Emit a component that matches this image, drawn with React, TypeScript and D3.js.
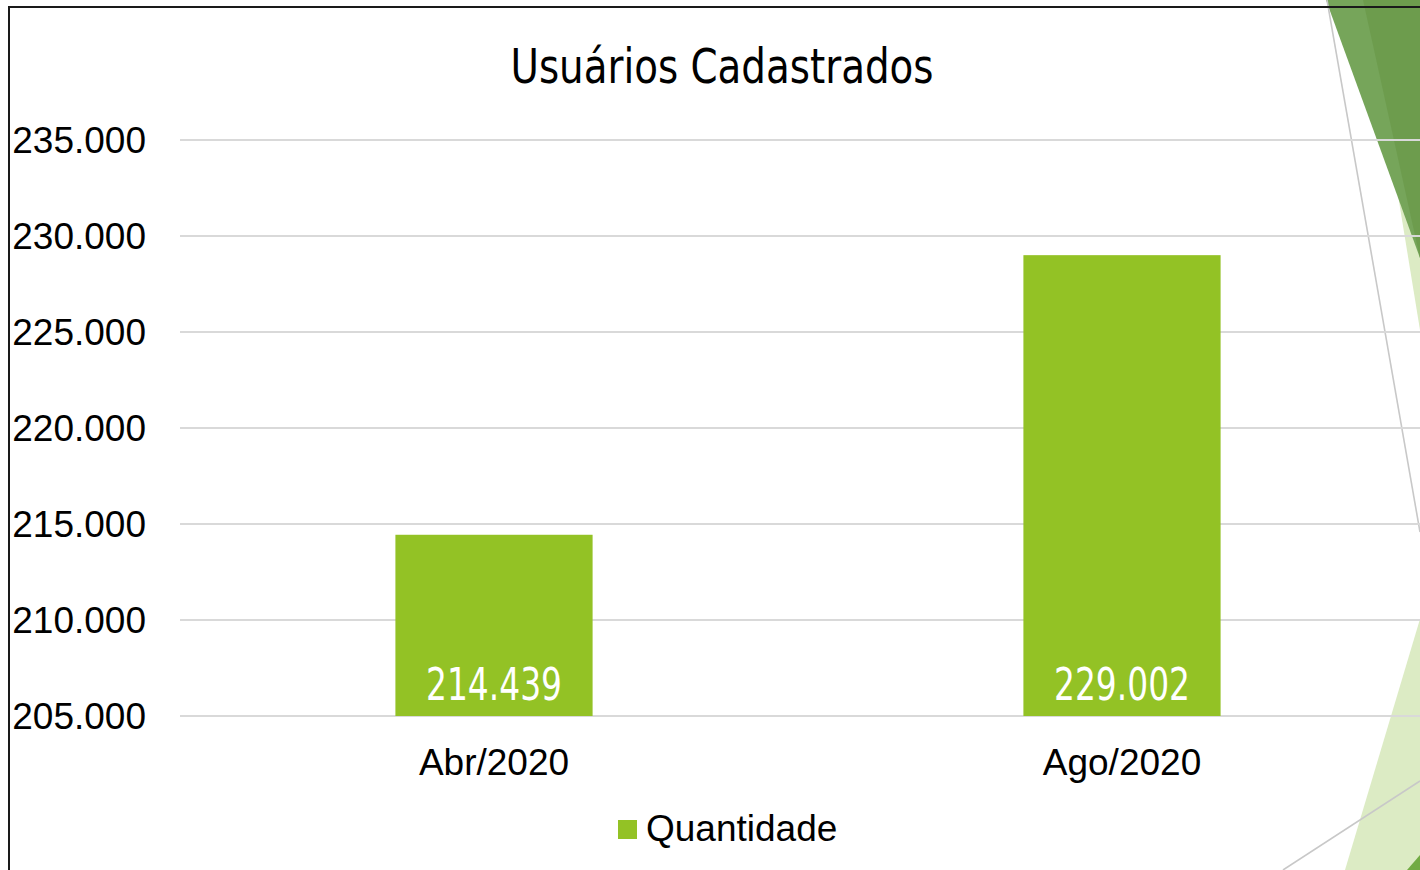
import * as d3 from 'd3'

const WIDTH = 1420
const HEIGHT = 870

const categories = ['Abr/2020', 'Ago/2020']
const quantidade = [214439, 229002]
const yTicks = [205000, 210000, 215000, 220000, 225000, 230000, 235000]
const title = 'Usuários Cadastrados'
const seriesName = 'Quantidade'

const BAR_COLOR = '#93c225'
const GRID_COLOR = '#d9d9d9'
const ARIAL = '"Liberation Sans", Arial, sans-serif'
const CONDENSED = '"DejaVu Sans Condensed", Roboto, sans-serif'

const ptBR = d3.formatLocale({ decimal: ',', thousands: '.', grouping: [3], currency: ['R$', ''] })
const fmt = ptBR.format(',d')

const x = d3.scaleBand<string>().domain(categories).range([180, 1436]).paddingInner(0.686).paddingOuter(0.343)
const y = d3.scaleLinear().domain([205000, 235000]).range([716, 140])

// decoration in the right margin (slide theme shapes)
const Decor = () => (
  <g>
    <polygon points="1389,140 1420,330 1420,140" fill="#dcebc4" />
    <polygon points="1326,0 1420,0 1420,258" fill="#76a55a" />
    <polygon points="1363,0 1420,0 1420,258" fill="#6c9a4b" opacity={0.85} />
    <line x1={1327} y1={0} x2={1420} y2={532} stroke="#c8c8c8" strokeWidth={1.6} />
    <polygon points="1345,870 1420,619 1420,870" fill="#dcebc4" />
    <line x1={1283} y1={870} x2={1420} y2={781} stroke="#c8c8c8" strokeWidth={1.6} />
    <polygon points="1407,870 1420,855 1420,870" fill="#72ab43" />
  </g>
)

export default function App() {
  const base = y(205000)
  return (
    <svg
      width={WIDTH}
      height={HEIGHT}
      viewBox={`0 0 ${WIDTH} ${HEIGHT}`}
      style={{ position: 'absolute', left: 0, top: 0, background: '#fff' }}
    >
      <rect width={WIDTH} height={HEIGHT} fill="#fff" />
      <Decor />

      <text
        x={722}
        y={83}
        textAnchor="middle"
        fontFamily={CONDENSED}
        fontSize={48}
        textLength={423}
        lengthAdjust="spacingAndGlyphs"
        fill="#000"
      >
        {title}
      </text>

      {yTicks.map((t) => (
        <g key={t}>
          <line x1={180} x2={WIDTH} y1={y(t)} y2={y(t)} stroke={GRID_COLOR} strokeWidth={2} />
          <text x={146} y={y(t) + 13} textAnchor="end" fontFamily={ARIAL} fontSize={37} fill="#000">
            {fmt(t)}
          </text>
        </g>
      ))}

      {categories.map((c, i) => {
        const bx = x(c)!
        const cx = bx + x.bandwidth() / 2
        return (
          <g key={c}>
            <rect x={bx} y={y(quantidade[i])} width={x.bandwidth()} height={base - y(quantidade[i])} fill={BAR_COLOR} />
            <text
              x={cx}
              y={base - 16}
              textAnchor="middle"
              fontFamily={CONDENSED}
              fontSize={44}
              textLength={136}
              lengthAdjust="spacingAndGlyphs"
              fill="#fff"
            >
              {fmt(quantidade[i])}
            </text>
            <text x={cx} y={775} textAnchor="middle" fontFamily={ARIAL} fontSize={37} fill="#000">
              {c}
            </text>
          </g>
        )
      })}

      <rect x={618} y={820} width={19} height={19} fill={BAR_COLOR} />
      <text x={646} y={841} fontFamily={ARIAL} fontSize={37} fill="#000">
        {seriesName}
      </text>

      <polyline points={`9,${HEIGHT} 9,7 ${WIDTH},7`} fill="none" stroke="#1a1a1a" strokeWidth={2} />
    </svg>
  )
}
